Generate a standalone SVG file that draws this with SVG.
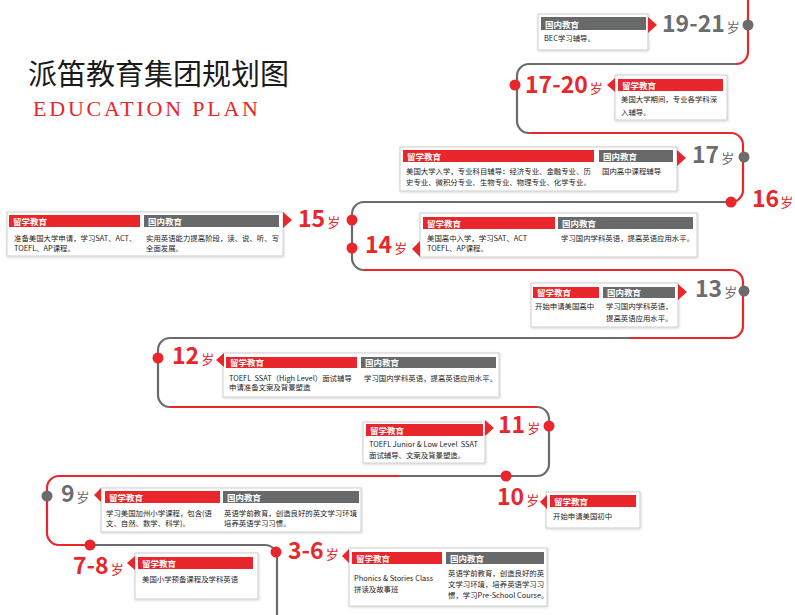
<svg xmlns="http://www.w3.org/2000/svg" width="795" height="615" viewBox="0 0 795 615">
<defs>
<style>
.box{fill:#fff;stroke:#cdcdcd;stroke-width:1}
.hr{fill:#e8262b}
.hg{fill:#686a6a}
.ht{font-family:"Noto Sans CJK SC","Noto Sans",sans-serif;font-size:8.5px;font-weight:bold;fill:#fff}
.bt{font-family:"Noto Sans CJK SC","Noto Sans",sans-serif;font-size:7.4px;fill:#222}
.tri{fill:#e8262b}
.nr{font-family:"Noto Sans CJK SC","Noto Sans",sans-serif;font-size:23px;font-weight:bold;fill:#e8262b}
.ng{font-family:"Noto Sans CJK SC","Noto Sans",sans-serif;font-size:23px;font-weight:bold;fill:#6b6d6e}
.sui{font-size:13px;font-weight:normal}
.lr{fill:none;stroke:#e8262b;stroke-width:2.2}
.lg{fill:none;stroke:#6b6b6b;stroke-width:2.2}
.dr{fill:#e8262b}
.dg{fill:#6b6b6b}
</style>
<filter id="sh" x="-5%" y="-5%" width="110%" height="120%">
<feDropShadow dx="0.6" dy="0.8" stdDeviation="0.8" flood-color="#000" flood-opacity="0.18"/>
</filter>
</defs>
<rect width="795" height="615" fill="#fff"/>

<g id="title">
<text x="28" y="85" font-family="'Noto Sans CJK SC','Noto Sans',sans-serif" font-size="29" fill="#1a1a1a">派笛教育集团规划图</text>
<text x="33" y="116" font-family="'Liberation Serif',serif" font-size="22" fill="#e8262b" textLength="225" lengthAdjust="spacing">EDUCATION PLAN</text>
</g>

<g id="connectors">
<path class="lr" d="M748,0 V52 A12,12 0 0 1 736,64"/>
<path class="lg" d="M736,64 H529 A12,12 0 0 0 517,76 V121 A12,12 0 0 0 529,133"/>
<path class="lr" d="M529,133 H731 A12,12 0 0 1 743,145 V190 A12,12 0 0 1 731,202"/>
<path class="lg" d="M731,202 H364 A12,12 0 0 0 352,214 V258 A12,12 0 0 0 364,270"/>
<path class="lr" d="M364,270 H731 A12,12 0 0 1 743,282 V326 A12,12 0 0 1 731,338 H630"/>
<path class="lg" d="M630,338 H170 A12,12 0 0 0 158,350 V395 A12,12 0 0 0 170,407"/>
<path class="lr" d="M170,407 H537"/>
<path class="lg" d="M537,407 A12,12 0 0 1 549,419 V464 A12,12 0 0 1 537,476 H399"/>
<path class="lr" d="M399,476 H59 A12,12 0 0 0 47,488 V533 A12,12 0 0 0 59,545 H90"/>
<path class="lg" d="M90,545 H265 A12,12 0 0 1 277,557 V615"/>
</g>

<g id="age-19-21">
<circle class="dg" cx="748" cy="25" r="5.5"/>
<rect class="box" x="538" y="14" width="110" height="36" filter="url(#sh)"/>
<rect class="hg" x="541" y="17" width="105" height="13"/>
<text class="ht" x="545" y="27.5">国内教育</text>
<text class="bt" x="544" y="41">BEC学习辅导。</text>
<polygon class="tri" points="648,17 657,25 648,33"/>
<text class="ng" x="662" y="32">19-21<tspan class="sui" dx="2">岁</tspan></text>
</g>

<g id="age-17-20">
<circle class="dr" cx="515" cy="85" r="5.5"/>
<rect class="box" x="615" y="75" width="112" height="45" filter="url(#sh)"/>
<rect class="hr" x="618" y="79" width="105" height="12"/>
<text class="ht" x="622" y="88.5">留学教育</text>
<text class="bt" x="621" y="102">美国大学期间，专业各学科深</text>
<text class="bt" x="621" y="114.5">入辅导。</text>
<polygon class="tri" points="615,78 607,85 615,92"/>
<text class="nr" x="525" y="93">17-20<tspan class="sui" dx="2">岁</tspan></text>
</g>

<g id="age-17">
<circle class="dg" cx="744" cy="157" r="5.5"/>
<rect class="box" x="400" y="147" width="277" height="44" filter="url(#sh)"/>
<rect class="hr" x="403" y="150" width="191" height="12"/>
<rect class="hg" x="599" y="150" width="74" height="12"/>
<text class="ht" x="407" y="159.5">留学教育</text>
<text class="ht" x="603" y="159.5">国内教育</text>
<text class="bt" x="406" y="173.5">美国大学入学，专业科目辅导：经济专业、金融专业、历</text>
<text class="bt" x="406" y="184.5">史专业、微积分专业、生物专业、物理专业、化学专业。</text>
<text class="bt" x="602" y="173.5">国内高中课程辅导</text>
<polygon class="tri" points="677,150 686,158 677,166"/>
<text class="ng" x="692" y="163">17<tspan class="sui" dx="2">岁</tspan></text>
</g>

<g id="age-16">
<circle class="dr" cx="731" cy="202" r="5.5"/>
<text class="nr" x="752" y="207">16<tspan class="sui" dx="1">岁</tspan></text>
</g>

<g id="age-15">
<circle class="dr" cx="352" cy="220" r="5.5"/>
<rect class="box" x="7" y="212" width="276" height="44" filter="url(#sh)"/>
<rect class="hr" x="9" y="215" width="131" height="12"/>
<rect class="hg" x="144" y="215" width="135" height="12"/>
<text class="ht" x="13" y="224.5">留学教育</text>
<text class="ht" x="148" y="224.5">国内教育</text>
<text class="bt" x="14" y="241">准备美国大学申请，学习SAT、ACT、</text>
<text class="bt" x="14" y="250.5">TOEFL、AP课程。</text>
<text class="bt" x="146" y="241">实用英语能力提高阶段，读、说、听、写</text>
<text class="bt" x="146" y="250.5">全面发展。</text>
<polygon class="tri" points="283,212 292,220 283,228"/>
<text class="nr" x="298" y="227">15<tspan class="sui" dx="2">岁</tspan></text>
</g>

<g id="age-14">
<circle class="dr" cx="352" cy="248" r="5.5"/>
<rect class="box" x="420" y="213" width="277" height="44" filter="url(#sh)"/>
<rect class="hr" x="423" y="217" width="132" height="12"/>
<rect class="hg" x="558" y="217" width="135" height="12"/>
<text class="ht" x="427" y="226.5">留学教育</text>
<text class="ht" x="562" y="226.5">国内教育</text>
<text class="bt" x="427" y="240.5">美国高中入学，学习SAT、ACT</text>
<text class="bt" x="427" y="251">TOEFL、AP课程。</text>
<text class="bt" x="561" y="240.5">学习国内学科英语，提高英语应用水平。</text>
<polygon class="tri" points="420,241 412,249 420,257"/>
<text class="nr" x="365" y="253">14<tspan class="sui" dx="2">岁</tspan></text>
</g>

<g id="age-13">
<circle class="dg" cx="744" cy="291" r="5.5"/>
<rect class="box" x="531" y="283" width="147" height="44" filter="url(#sh)"/>
<rect class="hr" x="533" y="287" width="66" height="11"/>
<rect class="hg" x="603" y="287" width="72" height="11"/>
<text class="ht" x="537" y="296">留学教育</text>
<text class="ht" x="607" y="296">国内教育</text>
<text class="bt" x="535" y="309">开始申请美国高中</text>
<text class="bt" x="606" y="309">学习国内学科英语，</text>
<text class="bt" x="606" y="320.5">提高英语应用水平。</text>
<polygon class="tri" points="678,284 687,292 678,300"/>
<text class="ng" x="695" y="297">13<tspan class="sui" dx="2">岁</tspan></text>
</g>

<g id="age-12">
<circle class="dr" cx="158" cy="358" r="5.5"/>
<rect class="box" x="223" y="353" width="276" height="44" filter="url(#sh)"/>
<rect class="hr" x="226" y="357" width="131" height="11"/>
<rect class="hg" x="361" y="357" width="135" height="11"/>
<text class="ht" x="230" y="366">留学教育</text>
<text class="ht" x="365" y="366">国内教育</text>
<text class="bt" x="229" y="380.5">TOEFL &#160;SSAT（High Level）面试辅导</text>
<text class="bt" x="229" y="390">申请准备文案及背景塑造</text>
<text class="bt" x="364" y="380.5">学习国内学科英语，提高英语应用水平。</text>
<polygon class="tri" points="224,353 216,360 224,367"/>
<text class="nr" x="172" y="364">12<tspan class="sui" dx="2">岁</tspan></text>
</g>

<g id="age-11">
<circle class="dr" cx="549" cy="426" r="5.5"/>
<rect class="box" x="363" y="422" width="122" height="41" filter="url(#sh)"/>
<rect class="hr" x="366" y="424" width="117" height="12"/>
<text class="ht" x="370" y="433.5">留学教育</text>
<text class="bt" x="369" y="447">TOEFL Junior &amp; Low Level &#160;SSAT</text>
<text class="bt" x="369" y="458">面试辅导、文案及背景塑造。</text>
<polygon class="tri" points="485,420 494,428 485,436"/>
<text class="nr" x="498" y="433">11<tspan class="sui" dx="2">岁</tspan></text>
</g>

<g id="age-10">
<circle class="dr" cx="506" cy="476" r="5.5"/>
<rect class="box" x="546" y="492" width="94" height="36" filter="url(#sh)"/>
<rect class="hr" x="550" y="495" width="86" height="12"/>
<text class="ht" x="554" y="504.5">留学教育</text>
<text class="bt" x="553" y="518.5">开始申请美国初中</text>
<polygon class="tri" points="547,495 540,502 547,509"/>
<text class="nr" x="497" y="505">10<tspan class="sui" dx="2">岁</tspan></text>
</g>

<g id="age-9">
<circle class="dg" cx="47" cy="496" r="5.5"/>
<rect class="box" x="101" y="488" width="260" height="44" filter="url(#sh)"/>
<rect class="hr" x="105" y="491" width="115" height="12"/>
<rect class="hg" x="223" y="491" width="136" height="12"/>
<text class="ht" x="109" y="500.5">留学教育</text>
<text class="ht" x="227" y="500.5">国内教育</text>
<text class="bt" x="106" y="516">学习美国加州小学课程，包含(语</text>
<text class="bt" x="106" y="526">文、自然、数学、科学)。</text>
<text class="bt" x="224" y="516">英语学前教育，创造良好的英文学习环境</text>
<text class="bt" x="224" y="526">培养英语学习习惯。</text>
<polygon class="tri" points="101,488 94,495 101,502"/>
<text class="ng" x="61" y="502">9<tspan class="sui" dx="2">岁</tspan></text>
</g>

<g id="age-7-8">
<circle class="dr" cx="90" cy="545" r="5.5"/>
<rect class="box" x="135" y="553" width="123" height="46" filter="url(#sh)"/>
<rect class="hr" x="138" y="557" width="115" height="12"/>
<text class="ht" x="142" y="566.5">留学教育</text>
<text class="bt" x="142" y="582">美国小学预备课程及学科英语</text>
<polygon class="tri" points="135,556 127,563 135,570"/>
<text class="nr" x="73" y="574">7-8<tspan class="sui" dx="2">岁</tspan></text>
</g>

<g id="age-3-6">
<circle class="dr" cx="276" cy="552" r="5.5"/>
<rect class="box" x="349" y="548" width="198" height="58" filter="url(#sh)"/>
<rect class="hr" x="352" y="552" width="90" height="12"/>
<rect class="hg" x="446" y="552" width="98" height="12"/>
<text class="ht" x="356" y="561.5">留学教育</text>
<text class="ht" x="450" y="561.5">国内教育</text>
<text class="bt" x="354" y="581">Phonics &amp; Stories Class</text>
<text class="bt" x="354" y="592">拼读及故事班</text>
<text class="bt" x="448" y="576">英语学前教育，创造良好的英</text>
<text class="bt" x="448" y="587">文学习环境，培养英语学习习</text>
<text class="bt" x="448" y="598">惯，学习Pre-School Course。</text>
<polygon class="tri" points="349,549 342,556 349,563"/>
<text class="nr" x="288" y="559">3-6<tspan class="sui" dx="2">岁</tspan></text>
</g>
</svg>
